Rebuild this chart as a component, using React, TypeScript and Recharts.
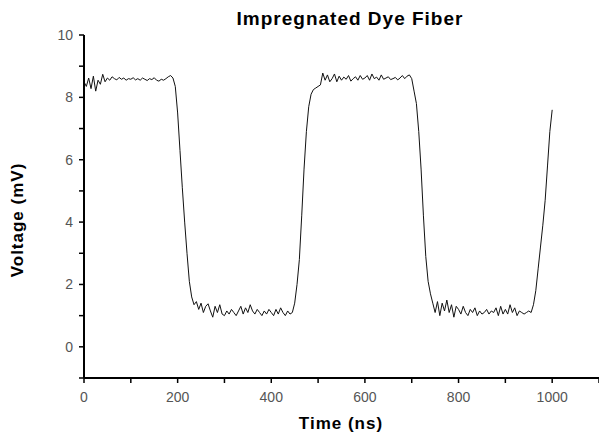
import { LineChart, Line, XAxis, YAxis } from "recharts";

// ─── Trace data (5 ns steps) ─────────────────────────────────────────────────
const timeNs = [
  0, 5, 10, 15, 20, 25, 30, 35, 40, 45, 50, 55, 60, 65, 70, 75, 80, 85, 90, 95,
  100, 105, 110, 115, 120, 125, 130, 135, 140, 145, 150, 155, 160, 165, 170, 175, 180, 185, 190, 195,
  200, 205, 210, 215, 220, 225, 230, 235, 240, 245, 250, 255, 260, 265, 270, 275, 280, 285, 290, 295,
  300, 305, 310, 315, 320, 325, 330, 335, 340, 345, 350, 355, 360, 365, 370, 375, 380, 385, 390, 395,
  400, 405, 410, 415, 420, 425, 430, 435, 440, 445, 450, 455, 460, 465, 470, 475, 480, 485, 490, 495,
  500, 505, 510, 515, 520, 525, 530, 535, 540, 545, 550, 555, 560, 565, 570, 575, 580, 585, 590, 595,
  600, 605, 610, 615, 620, 625, 630, 635, 640, 645, 650, 655, 660, 665, 670, 675, 680, 685, 690, 695,
  700, 705, 710, 715, 720, 725, 730, 735, 740, 745, 750, 755, 760, 765, 770, 775, 780, 785, 790, 795,
  800, 805, 810, 815, 820, 825, 830, 835, 840, 845, 850, 855, 860, 865, 870, 875, 880, 885, 890, 895,
  900, 905, 910, 915, 920, 925, 930, 935, 940, 945, 950, 955, 960, 965, 970, 975, 980, 985, 990, 995,
  1000,
];

const voltageMv = [
  8.5, 8.35, 8.62, 8.28, 8.68, 8.2, 8.55, 8.42, 8.74, 8.5, 8.62, 8.55, 8.66, 8.6, 8.56, 8.64, 8.58, 8.62, 8.55, 8.6,
  8.58, 8.63, 8.56, 8.6, 8.55, 8.62, 8.58, 8.54, 8.6, 8.57, 8.63, 8.55, 8.52, 8.58, 8.55, 8.6, 8.66, 8.7, 8.62, 8.35,
  7.5, 6.3, 5.1, 4.0, 3.0, 2.1, 1.6, 1.35, 1.45, 1.2, 1.4, 1.1, 1.3, 1.38, 1.15, 0.95, 1.3, 1.1, 1.35, 1.05,
  1.0, 1.15, 1.05, 1.2, 1.1, 1.0, 1.15, 1.3, 1.05, 1.25, 1.1, 1.35, 1.15, 1.05, 1.2, 1.1, 1.0, 1.15, 1.05, 1.2,
  1.1, 1.0, 1.2, 1.05, 1.25, 1.1, 1.0, 1.15, 1.05, 1.1, 1.4, 2.0, 2.8, 4.2, 5.7, 6.9, 7.7, 8.1, 8.25, 8.3,
  8.35, 8.4, 8.78, 8.55, 8.72, 8.5, 8.6, 8.75, 8.5, 8.68, 8.55, 8.65, 8.58, 8.7, 8.52, 8.6, 8.66, 8.55, 8.7, 8.58,
  8.62, 8.7, 8.55, 8.75, 8.6, 8.65, 8.55, 8.72, 8.58, 8.62, 8.66, 8.57, 8.6, 8.64, 8.56, 8.62, 8.7, 8.6, 8.68, 8.72,
  8.6, 8.2, 7.8, 6.9, 5.7, 4.2, 2.9, 2.1, 1.7, 1.4, 1.1, 1.45, 1.0, 1.4, 1.15, 1.5, 1.1, 1.35, 0.95, 1.3,
  1.2, 1.05, 1.3, 1.1, 1.0, 1.2, 1.1, 1.25, 1.0, 1.15, 1.05, 1.1, 1.2, 1.05, 1.15, 1.1, 1.25, 1.0, 1.3, 1.05,
  1.2, 1.05, 1.35, 1.1, 1.25, 1.0, 1.15, 1.1, 1.05, 1.1, 1.15, 1.1, 1.35, 1.8, 2.5, 3.2, 3.9, 4.7, 5.8, 6.9,
  7.6,
];

const xTicks = [0, 100, 200, 300, 400, 500, 600, 700, 800, 900, 1000, 1100];
const yTicks = [-1, 0, 1, 2, 3, 4, 5, 6, 7, 8, 9, 10];

const data = timeNs.map((t, i) => ({ t, v: voltageMv[i] }));

const FONT = "'Liberation Sans', Arial, sans-serif";
const tickStyle = { fontSize: 14, fill: "#555", fontFamily: FONT };

export default function App() {
  return (
    <div style={{ position: "absolute", left: 0, top: 0, width: 599, height: 436, background: "#fff", fontFamily: FONT }}>
      <div
        style={{
          position: "absolute", left: 0, width: 700, top: 8, textAlign: "center",
          fontSize: 19, fontWeight: 700, letterSpacing: 1, lineHeight: "22px",
        }}
      >
        Impregnated Dye Fiber
      </div>
      <LineChart width={599} height={436} data={data} margin={{ top: 35, right: 0, bottom: 28, left: 34 }}>
        <XAxis
          dataKey="t"
          type="number"
          domain={[0, 1100]}
          ticks={xTicks}
          interval={0}
          tickFormatter={(v: number) => (v % 200 === 0 && v <= 1000 ? String(v) : "")}
          axisLine={{ stroke: "#000", strokeWidth: 2 }}
          tickLine={{ stroke: "#000", strokeWidth: 1.5 }}
          tickSize={5}
          tickMargin={9}
          tick={tickStyle}
          height={30}
        />
        <YAxis
          type="number"
          domain={[-1, 10]}
          ticks={yTicks}
          interval={0}
          tickFormatter={(v: number) => (v >= 0 && v % 2 === 0 ? String(v) : "")}
          axisLine={{ stroke: "#000", strokeWidth: 2 }}
          tickLine={{ stroke: "#000", strokeWidth: 1.5 }}
          tickSize={5}
          tickMargin={6}
          tick={tickStyle}
          width={50}
        />
        <Line
          type="linear"
          dataKey="v"
          stroke="#111"
          strokeWidth={1}
          dot={false}
          isAnimationActive={false}
        />
      </LineChart>
      <div
        style={{
          position: "absolute", left: 241, width: 200, top: 414, textAlign: "center",
          fontSize: 17, fontWeight: 700, letterSpacing: 1, lineHeight: "20px",
        }}
      >
        Time (ns)
      </div>
      <div
        style={{
          position: "absolute", left: 18, top: 220, width: 0, height: 0,
        }}
      >
        <div
          style={{
            position: "absolute", left: -100, top: -10, width: 200, textAlign: "center",
            fontSize: 17, fontWeight: 700, letterSpacing: 1, lineHeight: "20px",
            transform: "rotate(-90deg)", whiteSpace: "nowrap",
          }}
        >
          Voltage (mV)
        </div>
      </div>
    </div>
  );
}
